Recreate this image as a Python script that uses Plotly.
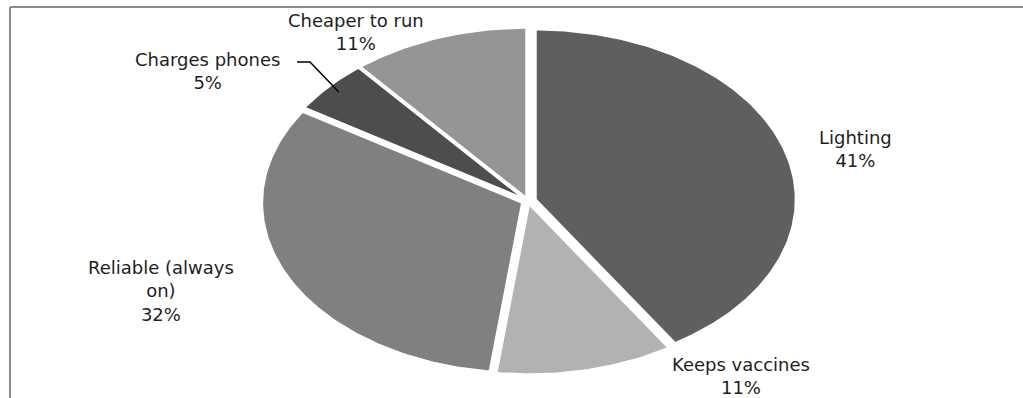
import numpy as np
import plotly.graph_objects as go

# Survey shares (percent), listed clockwise from 12 o'clock
categories = ["Lighting", "Keeps vaccines", "Reliable (always on)", "Charges phones", "Cheaper to run"]
values = [41, 11, 32, 5, 11]
label_text = ["Lighting<br>41%", "Keeps vaccines<br>11%", "Reliable (always<br>on)<br>32%",
              "Charges phones<br>5%", "Cheaper to run<br>11%"]

# Styling
colors = ["#5f5f5f", "#b2b2b2", "#808080", "#4d4d4d", "#959595"]
explode = [0.031, 0.02, 0.025, 0.02, 0.02]
label_pos = [(855, 149), (741, 376), (161, 291), (207, 71), (356, 32)]  # label centres

W, H = 1023, 398
cx, cy = 528, 201      # pie centre (px)
rx, ry = 260, 170      # horizontal / vertical radii (px)

fig = go.Figure()

total = float(sum(values))
start = 0.0
mid_angles = []
for name, v, col, ex in zip(categories, values, colors, explode):
    a0 = start / total * 2 * np.pi
    a1 = (start + v) / total * 2 * np.pi
    am = (a0 + a1) / 2
    mid_angles.append(am)
    ox = ex * rx * np.sin(am)
    oy = -ex * ry * np.cos(am)
    t = np.linspace(a0, a1, max(8, int(v * 4)))
    xs = np.concatenate([[cx + ox], cx + ox + rx * np.sin(t), [cx + ox]])
    ys = np.concatenate([[cy + oy], cy + oy - ry * np.cos(t), [cy + oy]])
    fig.add_trace(go.Scatter(x=xs, y=ys, mode="lines", fill="toself",
                             fillcolor=col, line=dict(color="white", width=2),
                             name=name, hoverinfo="name", showlegend=False))
    start += v

# Leader line for the small "Charges phones" slice
i = categories.index("Charges phones")
am = mid_angles[i]
ex = explode[i]
tip_x = cx + (ex + 0.95) * rx * np.sin(am)
tip_y = cy - (ex + 0.95) * ry * np.cos(am)
fig.add_trace(go.Scatter(x=[297, 310, tip_x], y=[62, 62, tip_y], mode="lines",
                         line=dict(color="black", width=1.5), hoverinfo="skip",
                         showlegend=False))

for txt, (lx, ly) in zip(label_text, label_pos):
    fig.add_annotation(x=lx, y=ly, text=txt, showarrow=False, xref="x", yref="y",
                       align="center", yanchor="middle",
                       font=dict(family="DejaVu Sans, sans-serif", size=18,
                                 color="#1e1e1e"))

# Chart frame (left and top edges)
fig.add_shape(type="line", x0=10, x1=10, y0=7, y1=H, xref="x", yref="y",
              line=dict(color="#8a8a8a", width=2))
fig.add_shape(type="line", x0=10, x1=W, y0=7, y1=7, xref="x", yref="y",
              line=dict(color="#8a8a8a", width=2))

fig.update_layout(
    width=W, height=H, margin=dict(l=0, r=0, t=0, b=0),
    paper_bgcolor="white", plot_bgcolor="white",
    xaxis=dict(range=[0, W], visible=False, fixedrange=True),
    yaxis=dict(range=[H, 0], visible=False, fixedrange=True),
)

fig.write_html("out.html")
